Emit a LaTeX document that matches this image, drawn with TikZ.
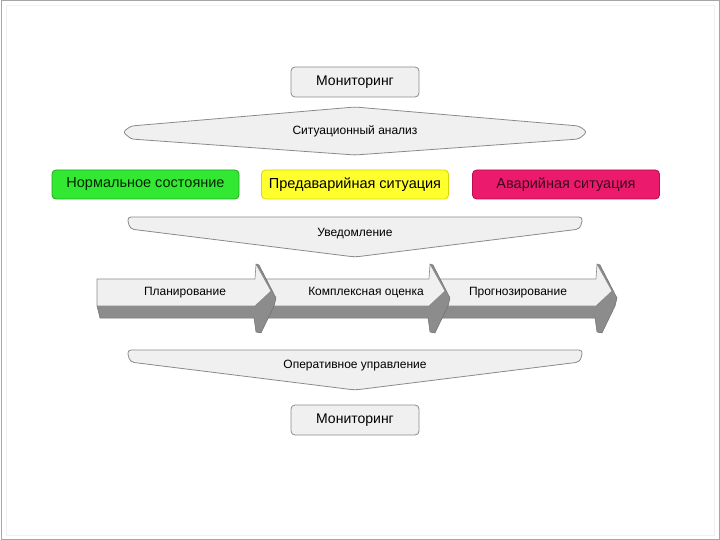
\documentclass[tikz,border=0pt]{standalone}
\usepackage{fontspec}
\setmainfont{Liberation Sans}
\definecolor{lightf}{HTML}{F0F0F0}
\definecolor{edgeg}{HTML}{8A8A8A}
\definecolor{darkf}{HTML}{8C8C8C}
\definecolor{grn}{HTML}{33E833}
\definecolor{grnb}{HTML}{1FA81F}
\definecolor{yel}{HTML}{FFFF2E}
\definecolor{yelb}{HTML}{D8D800}
\definecolor{pnk}{HTML}{EC1A6C}
\definecolor{pnkb}{HTML}{B80E4E}
\definecolor{pnkt}{HTML}{3A0A1E}
\begin{document}
\begin{tikzpicture}[x=1pt,y=-1pt,
  monbox/.style={draw=edgeg,fill=lightf,rounded corners=4pt,line width=0.8pt,minimum width=128pt,minimum height=30pt,font=\fontsize{14}{16}\selectfont},
  statebox/.style={rounded corners=4pt,line width=0.8pt,minimum width=187pt,minimum height=29pt,font=\fontsize{14.5}{16}\selectfont},
  bigshape/.style={draw=edgeg,fill=lightf,line width=0.8pt,rounded corners=4pt},
  lbl/.style={font=\fontsize{12}{14}\selectfont},
  lightface/.style={fill=lightf,draw=edgeg,line width=0.6pt,line join=round},
  darkface/.style={fill=darkf,draw=darkf!80!black,line width=0.5pt,line join=round}]
\useasboundingbox (0,0) rectangle (720,540);
\draw[gray!70,line width=1pt] (1,1) rectangle (719,539);
\draw[gray!12,line width=0.6pt] (6,5) rectangle (714,535);

% top monitoring
\node[monbox] (mon1) at (355,82) {Мониторинг};

% situational analysis
\draw[bigshape,rounded corners=3pt] (123,132) -- (131,126) -- (355,107) -- (579,126) -- (587,132) -- (579,139) -- (355,155) -- (131,139) -- cycle;
\node[lbl] (sa) at (355,131) {Ситуационный анализ};

% states
\node[statebox,draw=grnb,fill=grn,text=black!85!green] (norm) at (145.5,184.5) {Нормальное состояние};
\node[statebox,draw=yelb,fill=yel,text=black] (pre) at (355,184.5) {Предаварийная ситуация};
\node[statebox,draw=pnkb,fill=pnk,text=pnkt] (avar) at (566,184.5) {Аварийная ситуация};

% notification
\draw[bigshape] (127,217) -- (583,217) -- (580,229) -- (355,257) -- (130,229) -- cycle;
\node[lbl] (uv) at (355,234) {Уведомление};

% process arrows (drawn right to left)
\foreach \xo/\B/\T in {436/597/614, 262/430/447, 97/256/273}{
  \draw[darkface] (\xo,306) -- (\B-1,306) -- (\T-2,291) -- (\B,264) -- (\B+3,265) -- (\T+3,298) -- (\T+1,306) -- (\B+5,333) -- (\B,332) -- (\B-2,318) -- (\xo+3,318) -- cycle;
  \draw[lightface] (\xo,279) -- (\B-1,279) -- (\B,264) -- (\T-2,291) -- (\B-1,306) -- (\xo,306) -- cycle;
}
\node[lbl] (plan) at (185,293) {Планирование};
\node[lbl] (kompl) at (366,293) {Комплексная оценка};
\node[lbl] (prog) at (518,293) {Прогнозирование};

% operational management
\draw[bigshape] (127,350) -- (583,350) -- (580,362) -- (355,390) -- (130,362) -- cycle;
\node[lbl] (op) at (355,366) {Оперативное управление};

% bottom monitoring
\node[monbox] (mon2) at (355,420) {Мониторинг};
\end{tikzpicture}
\end{document}
